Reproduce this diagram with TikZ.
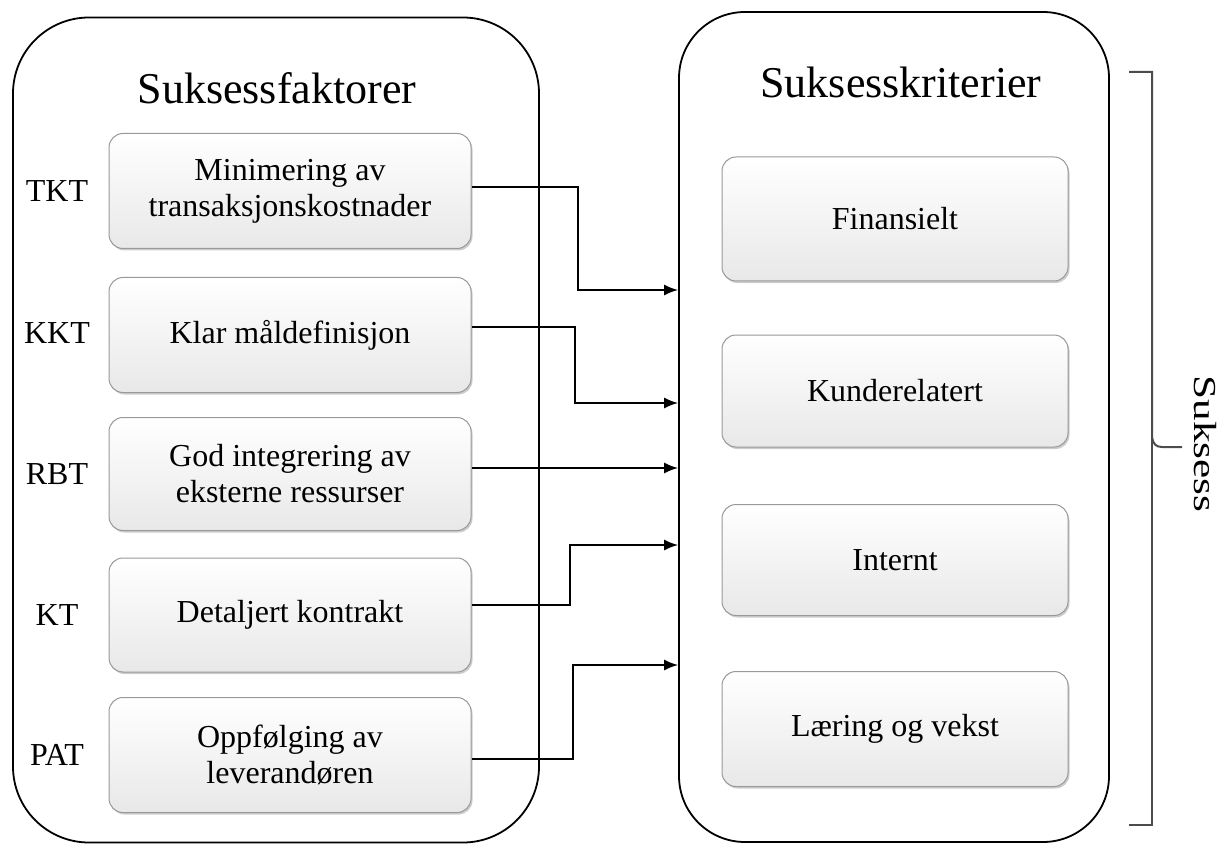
\documentclass[tikz,border=0pt]{standalone}
\usepackage{fontspec}
\setmainfont{Liberation Serif}
\usetikzlibrary{arrows.meta,shadows,calc}
\begin{document}
\begin{tikzpicture}[x=1pt,y=-1pt,
  outer/.style={draw=black, line width=1.8pt, inner sep=0pt},
  inbox/.style={draw=gray!80, line width=1pt, rounded corners=14pt, top color=white, bottom color=gray!18,
    drop shadow={shadow xshift=1.5pt, shadow yshift=-2pt, opacity=0.4, fill=gray},
    align=center, font=\fontsize{32}{36}\selectfont, inner sep=2pt},
  lab/.style={font=\fontsize{32}{35}\selectfont},
  ttl/.style={font=\fontsize{44}{50}\selectfont},
  arr/.style={line width=1.6pt, -{Latex[length=14pt,width=11pt]}},
  brc/.style={draw=gray!60!black, line width=2pt}
]
\useasboundingbox (0,0) rectangle (1232,845);
% outer boxes
\node[outer, rounded corners=76pt, minimum width=526pt, minimum height=825pt] (L) at (276,430) {};
\node[outer, rounded corners=66pt, minimum width=430pt, minimum height=830pt] (R) at (894,427) {};
% titles
\node[ttl] (tL) at (277,88) {Suksessfaktorer};
\node[ttl] (tR) at (901,82) {Suksesskriterier};
% left boxes
\node[inbox, minimum width=362pt, minimum height=115pt] (b1) at (290,191) {Minimering av\\transaksjonskostnader};
\node[inbox, minimum width=362pt, minimum height=115pt] (b2) at (290,335) {Klar måldefinisjon};
\node[inbox, minimum width=362pt, minimum height=113pt] (b3) at (290,474) {God integrering av\\eksterne ressurser};
\node[inbox, minimum width=362pt, minimum height=114pt] (b4) at (290,615) {Detaljert kontrakt};
\node[inbox, minimum width=362pt, minimum height=115pt] (b5) at (290,755) {Oppfølging av\\leverandøren};
% labels
\node[lab] (l1) at (57,191) {TKT};
\node[lab] (l2) at (57,333) {KKT};
\node[lab] (l3) at (57,474) {RBT};
\node[lab] (l4) at (57,615) {KT};
\node[lab] (l5) at (57,755) {PAT};
% right boxes
\node[inbox, minimum width=346pt, minimum height=124pt] (r1) at (895,219) {Finansielt};
\node[inbox, minimum width=346pt, minimum height=112pt] (r2) at (895,391) {Kunderelatert};
\node[inbox, minimum width=346pt, minimum height=111pt] (r3) at (895,560) {Internt};
\node[inbox, minimum width=346pt, minimum height=115pt] (r4) at (895,729) {Læring og vekst};
% connectors
\coordinate (e1) at (R.west |- 0,290);
\coordinate (e2) at (R.west |- 0,403);
\coordinate (e3) at (R.west |- 0,468);
\coordinate (e4) at (R.west |- 0,545);
\coordinate (e5) at (R.west |- 0,665);
\draw[arr] (b1.east |- 0,187) -| (578,290) -- (e1);
\draw[arr] (b2.east |- 0,327) -| (575,403) -- (e2);
\draw[arr] (b3.east |- 0,468) -- (e3);
\draw[arr] (b4.east |- 0,605) -| (570,545) -- (e4);
\draw[arr] (b5.east |- 0,759) -| (573,665) -- (e5);
% brace
\coordinate (bt) at (1129,72);
\coordinate (bb) at (1129,825);
\coordinate (bm) at (1182,447);
\draw[brc] (bt) -- (1152,72) -- (1152,437) .. controls (1153,444) and (1156,447) .. (1162,447) -- (bm);
\draw[brc] (1152,437) -- (1152,825) -- (bb);
\node[font=\fontsize{32}{36}\selectfont, rotate=-90, inner sep=0pt] (s) at (1205,444) {\scalebox{1.35}[1]{Suksess}};
\end{tikzpicture}
\end{document}
